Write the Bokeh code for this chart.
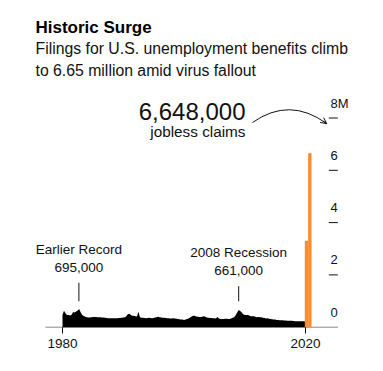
from bokeh.plotting import figure
from bokeh.models import Range1d, Arrow, OpenHead
from bokeh.core.properties import value
from bokeh.embed import file_html
from bokeh.resources import INLINE

# ---------------- data ----------------
title = "Historic Surge"
subtitle = ["Filings for U.S. unemployment benefits climb",
            "to 6.65 million amid virus fallout"]

start_year = 1980
# initial jobless claims, thousands, quarterly from 1980 Q1
claims_q = [
    480, 630, 520, 470,   # 1980
    470, 450, 480, 580,   # 1981
    560, 600, 640, 700,   # 1982
    560, 470, 430, 400,   # 1983
    380, 370, 370, 380,   # 1984
    390, 390, 390, 380,   # 1985
    380, 380, 370, 370,   # 1986
    360, 350, 340, 340,   # 1987
    340, 340, 340, 340,   # 1988
    340, 350, 350, 360,   # 1989
    370, 380, 420, 500,   # 1990
    510, 470, 440, 440,   # 1991
    420, 410, 590, 380,   # 1992
    360, 360, 350, 340,   # 1993
    350, 360, 350, 340,   # 1994
    350, 370, 380, 400,   # 1995
    380, 370, 360, 360,   # 1996
    350, 340, 340, 330,   # 1997
    330, 340, 330, 320,   # 1998
    310, 300, 290, 290,   # 1999
    280, 290, 310, 330,   # 2000
    370, 410, 440, 440,   # 2001
    410, 400, 390, 390,   # 2002
    400, 420, 400, 370,   # 2003
    360, 350, 350, 340,   # 2004
    340, 330, 390, 330,   # 2005
    310, 310, 310, 320,   # 2006
    320, 310, 310, 330,   # 2007
    360, 380, 460, 560,   # 2008
    660, 620, 560, 500,   # 2009
    470, 470, 470, 450,   # 2010
    420, 420, 420, 400,   # 2011
    380, 390, 380, 380,   # 2012
    360, 350, 330, 340,   # 2013
    320, 310, 300, 290,   # 2014
    290, 280, 275, 270,   # 2015
    270, 265, 260, 255,   # 2016
    250, 250, 250, 245,   # 2017
    240, 230, 225, 230,   # 2018
    230, 225, 225, 225,   # 2019
    220,                  # 2020 Q1 (before surge)
]
surge_weeks = ["Mar 21, 2020", "Mar 28, 2020"]
surge_claims = [3307, 6648]          # thousands

x_ticks = [1980, 2020]
x_tick_labels = ["1980", "2020"]
y_ticks = [0, 2000, 4000, 6000, 8000]
y_tick_labels = ["0", "2", "4", "6", "8M"]

callout_titles = ["Earlier Record", "2008 Recession"]
callout_values = ["695,000", "661,000"]
callout_years = [1982.7, 2009.0]

headline_value = "6,648,000"
headline_label = "jobless claims"

# ---------------- layout helpers (page pixels -> data) ----------------
W, H = 383, 371
PX_PER_YEAR = (305 - 62) / 40.0
PX_PER_K = 52.3 / 2000.0
BASE_PY = 326.7
X1980_PX = 62.0


def X(px):
    return 1980 + (px - X1980_PX) / PX_PER_YEAR


def Y(py):
    return (BASE_PY - py) / PX_PER_K


FONT = value("Liberation Sans")
ORANGE = "#fb8b2e"
INK = "#111111"
BASE_FIX = -0.38   # baseline correction, in font-size units


def txt(p, xs, ys, texts, size, align="left", bold=False, **kw):
    p.text(x=xs, y=ys, text=texts, text_font=FONT,
           text_font_style="bold" if bold else "normal",
           text_font_size=f"{size}px", text_color=kw.pop("color", INK),
           text_align=align, text_baseline="alphabetic",
           y_offset=kw.pop("dy", 0) + BASE_FIX * size, **kw)


p = figure(width=W, height=H, output_backend="svg", toolbar_location=None,
           x_axis_location=None, y_axis_location=None, min_border=0,
           x_range=Range1d(X(0), X(W)), y_range=Range1d(Y(H), Y(0)),
           outline_line_color=None, background_fill_color="white",
           border_fill_color="white")
p.grid.visible = False

# titles
txt(p, [X(35)], [Y(33.5)], [title], 17, bold=True, color="#000000")
txt(p, [X(35), X(35)], [Y(54.5), Y(76)], subtitle, 15.8)

# baseline axis
p.segment(x0=[X(45)], y0=[0], x1=[X(337.5)], y1=[0], line_color="#8a8a8a",
          line_width=1)

# black area
xs = [start_year + i * 0.25 for i in range(len(claims_q))]
p.varea(x=xs, y1=[0] * len(xs), y2=claims_q, fill_color="#000000")

# orange surge bars
bar_w = 3.35 / PX_PER_YEAR
bar_left = X(304.3)
bar_x = [bar_left + bar_w * (i + 0.5) for i in range(len(surge_claims))]
p.vbar(x=bar_x, top=surge_claims, bottom=0, width=bar_w, fill_color=ORANGE,
       line_color=None)

# x ticks and labels
p.segment(x0=x_ticks, y0=[0] * len(x_ticks), x1=x_ticks, y1=[Y(333)] * len(x_ticks),
          line_color=INK, line_width=1)
txt(p, x_ticks, [Y(348.5)] * len(x_ticks), x_tick_labels, 13.5, align="center")

# right y ticks and labels
p.scatter(x=[X(332.8)] * (len(y_ticks) - 1), y=y_ticks[1:], marker="dash", size=9,
          line_color=INK, line_width=1)
txt(p, [X(330)] * len(y_ticks), y_ticks, y_tick_labels, 13, dy=-10)

# callouts: leader line, value line, title line above it
leader_top = [282.3, 285.7]
for i in range(len(callout_titles)):
    cx = callout_years[i]
    p.segment(x0=[cx], y0=[Y(300.7)], x1=[cx], y1=[Y(leader_top[i])],
              line_color=INK, line_width=1)
    value_base = leader_top[i] - 10.5
    title_base = value_base - 17.7
    txt(p, [cx, cx], [Y(title_base), Y(value_base)],
        [callout_titles[i], callout_values[i]], 13.5, align="center")

# headline callout
txt(p, [X(245)], [Y(120.5)], [headline_value], 24, align="right")
txt(p, [X(245)], [Y(136.5)], [headline_label], 15.3, align="right")

# curved arrow
p.quadratic(x0=[X(252)], y0=[Y(122)], x1=[X(326)], y1=[Y(123)],
            cx=[X(289)], cy=[Y(96)], line_color=INK, line_width=1)
p.add_layout(Arrow(end=OpenHead(size=6, line_width=1, line_color=INK),
                   x_start=X(322.8), y_start=Y(120.6), x_end=X(326.2), y_end=Y(123.1),
                   line_color=INK, line_width=1))

open("out.html", "w").write(file_html(p, INLINE))
